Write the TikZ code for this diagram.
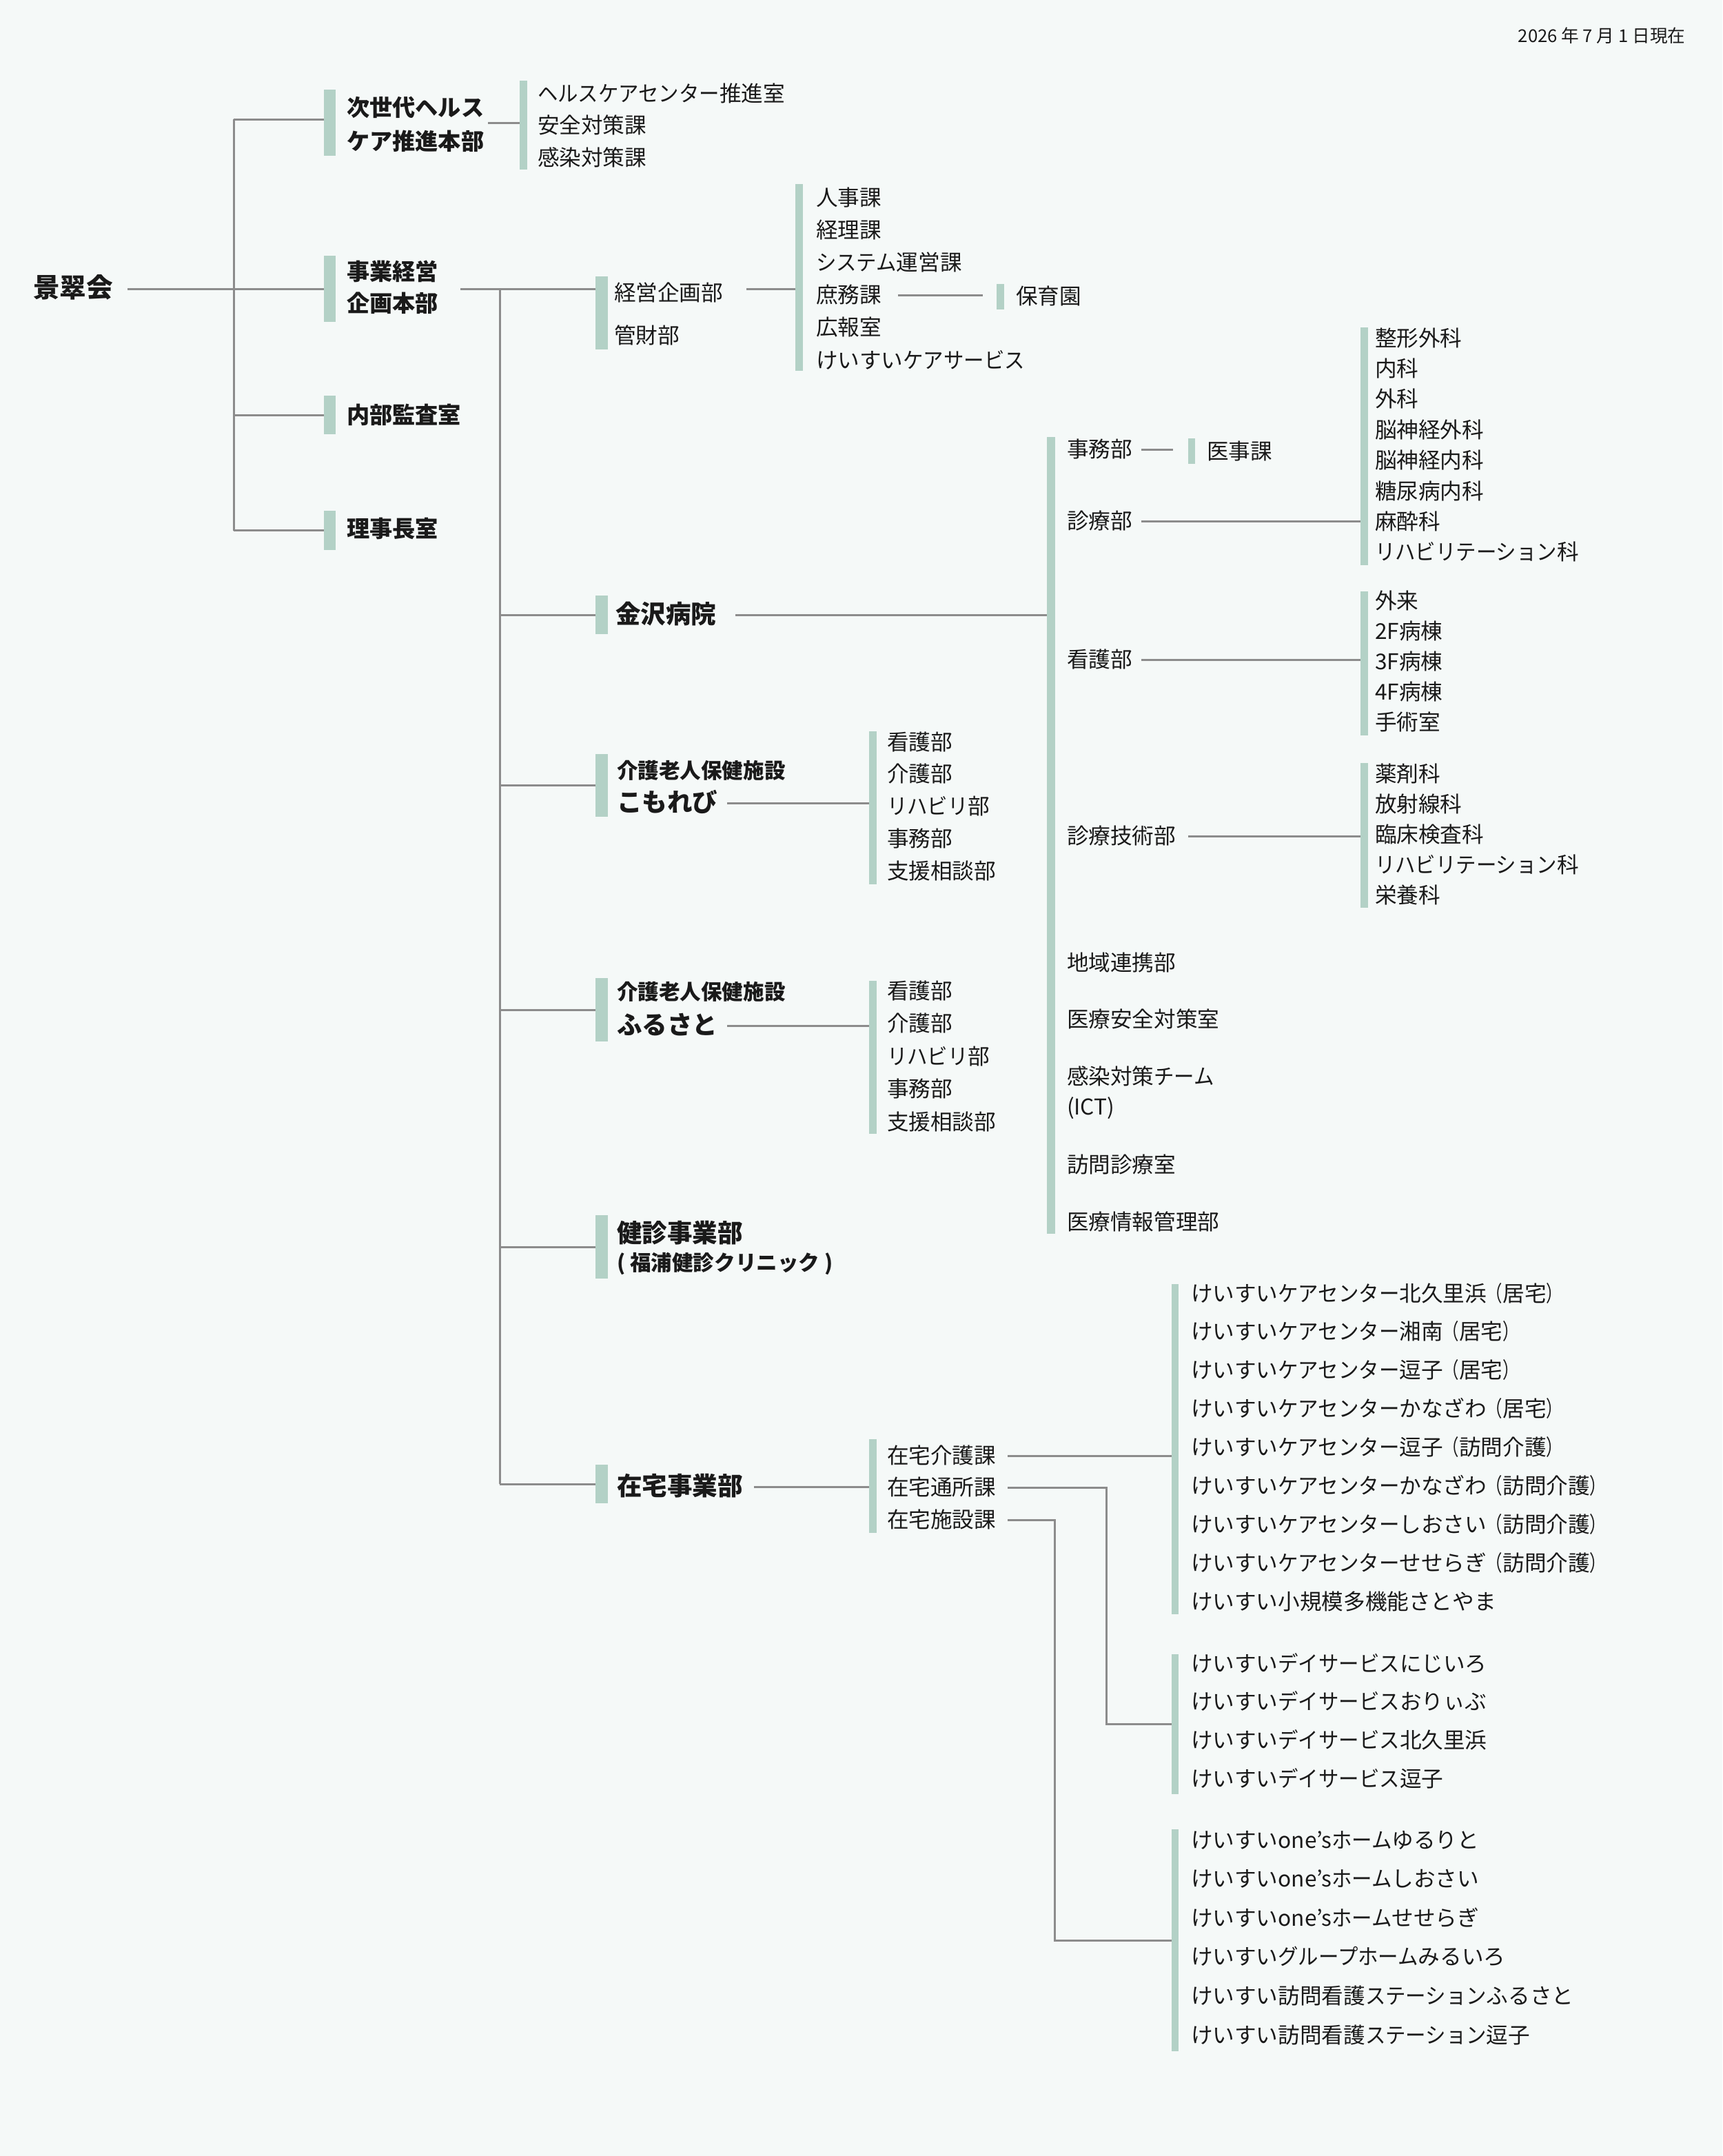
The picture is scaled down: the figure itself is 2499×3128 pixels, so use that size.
\documentclass[tikz,border=0pt]{standalone}
\usepackage{fontspec}
\setmainfont{Noto Sans CJK JP}
\newfontfamily\ktfont{Noto Sans CJK JP}[FakeStretch=0.93]
\newfontfamily\ppfont{Noto Sans CJK JP}[FakeStretch=0.74]
\newcommand\kk[1]{{\ktfont #1}}
\newcommand\pl{{\ppfont （}}
\newcommand\pr{{\ppfont ）}}
\usetikzlibrary{fit}
\definecolor{bgc}{HTML}{F5F9F8}
\definecolor{barc}{HTML}{B3D1C6}
\definecolor{linec}{HTML}{8C8C8C}
\definecolor{txtc}{HTML}{1A1A1A}
\newcommand\fReg{\fontsize{9pt}{11pt}\selectfont}
\newcommand\fSec{\bfseries\fontsize{9.45pt}{11pt}\selectfont}
\newcommand\fBig{\bfseries\fontsize{10.4pt}{12pt}\selectfont}
\newcommand\fTop{\bfseries\fontsize{11pt}{13pt}\selectfont}
\newcommand\fSb{\bfseries\fontsize{8.7pt}{10pt}\selectfont}
\newcommand\fDate{\fontsize{7.3pt}{9pt}\selectfont}
\begin{document}
\begin{tikzpicture}[x=0.1mm,y=-0.1mm,
  reg/.style={anchor=west, inner sep=0pt, outer sep=0pt, text=txtc, font=\fReg, text height=7.6pt, text depth=1.3pt},
  bsec/.style={reg, font=\fSec, text height=8pt, text depth=1.4pt},
  big/.style={reg, font=\fBig, text height=8.8pt, text depth=1.5pt},
  topn/.style={reg, font=\fTop, text height=9.3pt, text depth=1.6pt},
  sbold/.style={reg, font=\fSb, text height=7.35pt, text depth=1.25pt},
  datef/.style={anchor=east, inner sep=0pt, font=\fDate, text=txtc},
  barn/.style={fill=barc, inner sep=0pt, outer sep=0pt, draw=none},
  conn/.style={draw=linec, line width=0.3mm}]
\useasboundingbox (0,0) rectangle (2499,3128);
\fill[bgc] (0,0) rectangle (2499,3128);

% ---------- bars ----------
\node[barn, fit={(470,130) (487,226)}] (b1) {};
\node[barn, fit={(470,371) (487,467)}] (bJ) {};
\node[barn, fit={(470,574) (487,630)}] (bN) {};
\node[barn, fit={(470,741) (487,798)}] (bR) {};
\node[barn, fit={(754,117) (765,246)}] (bL0) {};
\node[barn, fit={(864,401) (882,507)}] (bK) {};
\node[barn, fit={(1154,267) (1165,538)}] (bJL) {};
\node[barn, fit={(1446,412) (1457,449)}] (bHo) {};
\node[barn, fit={(864,864) (882,920)}] (bKz) {};
\node[barn, fit={(1519,634) (1531,1790)}] (bH) {};
\node[barn, fit={(1724,636) (1734,673)}] (bIJ) {};
\node[barn, fit={(1974,475) (1985,820)}] (bS) {};
\node[barn, fit={(1974,858) (1985,1067)}] (bKg) {};
\node[barn, fit={(1974,1107) (1985,1317)}] (bG) {};
\node[barn, fit={(864,1094) (882,1185)}] (bKo) {};
\node[barn, fit={(1261,1061) (1272,1283)}] (bKoL) {};
\node[barn, fit={(864,1419) (882,1511)}] (bFu) {};
\node[barn, fit={(1261,1423) (1272,1645)}] (bFuL) {};
\node[barn, fit={(864,1763) (882,1855)}] (bKe) {};
\node[barn, fit={(864,2125) (882,2181)}] (bZ) {};
\node[barn, fit={(1261,2088) (1272,2224)}] (bZL) {};
\node[barn, fit={(1700,1863) (1710,2342)}] (bL1) {};
\node[barn, fit={(1700,2400) (1710,2603)}] (bL2) {};
\node[barn, fit={(1700,2654) (1710,2976)}] (bL3) {};

% ---------- texts ----------
\node[datef] (date) at (2446,52) {2026 年 7 月 1 日現在};
\node[topn] (root) at (48,418) {景翠会};
\node[bsec] (j1a) at (503,157) {次世代ヘルス};
\node[bsec] (j1b) at (503,206) {ケア推進本部};
\node[bsec] (j2a) at (503,395) {事業経営};
\node[bsec] (j2b) at (503,441) {企画本部};
\node[bsec] (j3) at (503,603) {内部監査室};
\node[bsec] (j4) at (503,768) {理事長室};

\foreach \s [count=\i] in {\kk{ヘルスケアセンター}推進室,安全対策課,感染対策課}
  \node[reg] (h\i) at (780,{136+(\i-1)*46.5}) {\s};

\node[reg] (k1) at (891,425) {経営企画部};
\node[reg] (k2) at (891,487) {管財部};

\foreach \s [count=\i] in {人事課,経理課,\kk{システム}運営課,庶務課,広報室,けいすい\kk{ケアサービス}}
  \node[reg] (jm\i) at (1184,{287+(\i-1)*47.2}) {\s};
\node[reg] (hoiku) at (1474,430) {保育園};

\node[big] (kz) at (893,892) {金沢病院};
\node[reg] (hJ) at (1548,652) {事務部};
\node[reg] (ij) at (1751,655) {医事課};
\node[reg] (hS) at (1548,756) {診療部};
\node[reg] (hK) at (1548,957) {看護部};
\node[reg] (hG) at (1548,1213) {診療技術部};
\node[reg] (hC) at (1548,1397) {地域連携部};
\node[reg] (hA) at (1548,1479) {医療安全対策室};
\node[reg] (hI) at (1548,1562) {感染対策\kk{チーム}};
\node[reg] (hI2) at (1548,1606) {(ICT)};
\node[reg] (hV) at (1548,1690) {訪問診療室};
\node[reg] (hM) at (1548,1773) {医療情報管理部};

\foreach \s [count=\i] in {整形外科,内科,外科,脳神経外科,脳神経内科,糖尿病内科,麻酔科,\kk{リハビリテーション}科}
  \node[reg] (s\i) at (1995,{491+(\i-1)*44.4}) {\s};
\foreach \s [count=\i] in {外来,2F病棟,3F病棟,4F病棟,手術室}
  \node[reg] (n\i) at (1995,{872+(\i-1)*44}) {\s};
\foreach \s [count=\i] in {薬剤科,放射線科,臨床検査科,\kk{リハビリテーション}科,栄養科}
  \node[reg] (g\i) at (1995,{1123+(\i-1)*44}) {\s};

\node[sbold] (koa) at (895,1119) {介護老人保健施設};
\node[big] (ko) at (895,1165) {こもれび};
\foreach \s [count=\i] in {看護部,介護部,\kk{リハビリ}部,事務部,支援相談部}
  \node[reg] (ko\i) at (1287,{1077+(\i-1)*46.75}) {\s};

\node[sbold] (fua) at (895,1440) {介護老人保健施設};
\node[big] (fu) at (895,1488) {ふるさと};
\foreach \s [count=\i] in {看護部,介護部,\kk{リハビリ}部,事務部,支援相談部}
  \node[reg] (fu\i) at (1287,{1438+(\i-1)*47.5}) {\s};

\node[big] (ke) at (895,1790) {健診事業部};
\node[sbold] (ke2) at (895,1833) {( 福浦健診クリニック )};

\node[big] (zt) at (895,2157) {在宅事業部};
\node[reg] (zt1) at (1287,2112) {在宅介護課};
\node[reg] (zt2) at (1287,2158) {在宅通所課};
\node[reg] (zt3) at (1287,2205) {在宅施設課};

\foreach \s [count=\i] in {けいすい\kk{ケアセンター}北久里浜\pl 居宅\pr,けいすい\kk{ケアセンター}湘南\pl 居宅\pr,けいすい\kk{ケアセンター}逗子\pl 居宅\pr,けいすい\kk{ケアセンター}かなざわ\pl 居宅\pr,けいすい\kk{ケアセンター}逗子\pl 訪問介護\pr,けいすい\kk{ケアセンター}かなざわ\pl 訪問介護\pr,けいすい\kk{ケアセンター}しおさい\pl 訪問介護\pr,けいすい\kk{ケアセンター}せせらぎ\pl 訪問介護\pr,けいすい小規模多機能さとやま}
  \node[reg] (la\i) at (1728,{1877+(\i-1)*55.9}) {\s};
\foreach \s [count=\i] in {けいすい\kk{デイサービス}にじいろ,けいすい\kk{デイサービス}おりぃぶ,けいすい\kk{デイサービス}北久里浜,けいすい\kk{デイサービス}逗子}
  \node[reg] (lb\i) at (1728,{2414+(\i-1)*55.7}) {\s};
\foreach \s [count=\i] in {けいすいone’s\kk{ホーム}ゆるりと,けいすいone’s\kk{ホーム}しおさい,けいすいone’s\kk{ホーム}せせらぎ,けいすい\kk{グループホーム}みるいろ,けいすい訪問看護\kk{ステーション}ふるさと,けいすい訪問看護\kk{ステーション}逗子}
  \node[reg] (lc\i) at (1728,{2670+(\i-1)*56.6}) {\s};

% ---------- connectors ----------
\coordinate (T1) at (339,0);
\coordinate (T2) at (725,0);
\coordinate (T3) at (1605,0);
\coordinate (T4) at (1530,0);
\coordinate (Y1) at (0,173);

\draw[conn] (root.east |- bJ.west) ++(2.1mm,0) -- (bJ.west);
\draw[conn] (T1 |- Y1) -- (b1.west |- Y1);
\foreach \b in {bJ,bN,bR} \draw[conn] (T1 |- \b.west) -- (\b.west);
\draw[conn] (T1 |- Y1) -- (T1 |- bR.west);

\draw[conn] (j1b.east |- b1.west) ++(0.6mm,0) -- (bL0.west |- b1.west);

\draw[conn] (j2a.east |- bJ.west) ++(3.2mm,0) -- (bK.west |- bJ.west);
\draw[conn] (T2 |- bJ.west) -- (T2 |- bZ.west);
\foreach \b in {bKz,bKo,bFu,bKe,bZ} \draw[conn] (T2 |- \b.west) -- (\b.west);

\draw[conn] (k1.east |- bJ.west) ++(3.4mm,0) -- (bJL.west |- bJ.west);
\draw[conn] (jm4.east) ++(2.4mm,0) -- +(12.3mm,0);

\draw[conn] (kz.east) ++(2.8mm,0) -- (bH.west |- kz.east);
\draw[conn] (hJ.east) ++(1.3mm,0) -- +(4.6mm,0);
\draw[conn] (hS.east) ++(1.3mm,0) -- (bS.west |- hS.east);
\draw[conn] (hK.east) ++(1.3mm,0) -- (bKg.west |- hK.east);
\draw[conn] (hG.east) ++(1.8mm,0) -- (bG.west |- hG.east);

\draw[conn] (ko.east) ++(1.4mm,0) -- (bKoL.west |- ko.east);
\draw[conn] (fu.east) ++(1.4mm,0) -- (bFuL.west |- fu.east);
\draw[conn] (zt.east) ++(1.6mm,0) -- (bZL.west |- zt.east);

\draw[conn] (zt1.east) ++(1.7mm,0) -- (bL1.west |- zt1.east);
\draw[conn] (zt2.east) ++(1.7mm,0) -- (T3 |- zt2.east) |- (bL2.west);
\draw[conn] (zt3.east) ++(1.7mm,0) -- (T4 |- zt3.east) |- (bL3.west);
\end{tikzpicture}
\end{document}
